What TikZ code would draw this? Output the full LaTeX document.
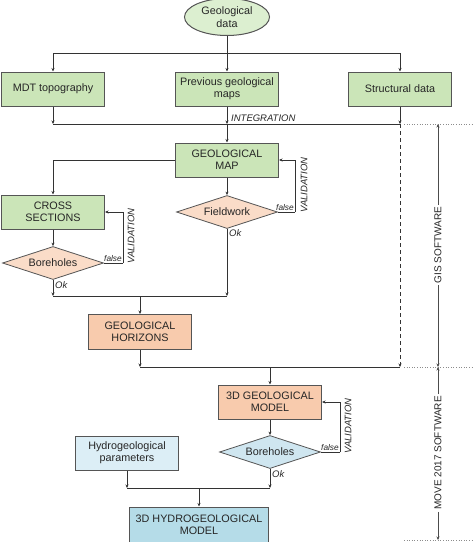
\documentclass[tikz,border=0pt]{standalone}
\usepackage{fontspec}
\setmainfont{Liberation Sans}
\usetikzlibrary{shapes.geometric,arrows.meta,calc}
\definecolor{bordc}{HTML}{555555}
\definecolor{linec}{HTML}{333333}
\definecolor{greenf}{HTML}{CBE5B8}
\definecolor{ellf}{HTML}{DCEFD0}
\definecolor{orangef}{HTML}{F8CBAD}
\definecolor{dorangef}{HTML}{FADCC8}
\definecolor{lbluef}{HTML}{DCEEF6}
\definecolor{dbluef}{HTML}{CFE6F0}
\definecolor{bluef}{HTML}{B5DCE8}
\newcommand\mainfs{\fontsize{10.8}{12.3}\selectfont}
\newcommand\labfs{\fontsize{9.5}{11}\selectfont\itshape}
\newcommand\smallfs{\fontsize{8.3}{10}\selectfont\itshape}
\begin{document}
\begin{tikzpicture}[x=1pt,y=-1pt,
  box/.style={draw=bordc,line width=1pt,minimum width=103pt,minimum height=34pt,align=center,inner sep=1pt,font=\mainfs,text=black!85},
  dia/.style={diamond,draw=bordc,line width=0.8pt,minimum width=101pt,minimum height=33pt,aspect=3,inner sep=0pt,font=\mainfs,text=black!85},
  arr/.style={draw=linec,line width=0.9pt,-{Stealth[length=3.5pt,width=3pt]}},
  ln/.style={draw=linec,line width=0.9pt},
  lab/.style={font=\labfs,text=black!85,inner sep=1pt},
  sml/.style={font=\smallfs,text=black!85,inner sep=0.5pt},
  dim/.style={draw=black!70,line width=0.6pt,-{Stealth[length=3.5pt,width=3pt]}},
  dotl/.style={draw=black!45,line width=0.6pt,dotted},
  vtxt/.style={rotate=90,font=\fontsize{10}{12}\selectfont,text=black!85,inner sep=2pt}
]
\useasboundingbox (0,0) rectangle (474,542);
\fill[white] (0,0) rectangle (474,542);

% top
\node[ellipse,draw=bordc,line width=1pt,fill=ellf,minimum width=85pt,minimum height=37pt,inner sep=0pt,align=center,font=\mainfs,text=black!85] (gd) at (227,17) {Geological\\data};
\node[box,fill=greenf] (mdt) at (53,89) {MDT topography};
\node[box,fill=greenf] (prev) at (227,89) {Previous geological\\maps};
\node[box,fill=greenf] (struct) at (400,89) {Structural data};

\coordinate (top) at (227,53);
\draw[ln] (gd.south) -- (top);
\draw[arr] (top) -| (mdt.north);
\draw[arr] (top) -| (struct.north);
\draw[arr] (top) -- (prev.north);

\coordinate (int) at (227,124);
\coordinate (intl) at (mdt.south |- int);
\coordinate (intr) at (struct.south |- int);
\draw[arr] (mdt.south) -- (intl);
\draw[arr] (struct.south) -- (intr);
\draw[arr] (prev.south) -- (int);
\draw[ln] (intl) -- (intr);
\node[lab,anchor=south west] (integ) at (230,123) {INTEGRATION};

% geological map
\node[box,fill=greenf] (map) at (227,160) {GEOLOGICAL\\MAP};
\draw[arr] (int) -- (map.north);
\node[box,fill=greenf] (cross) at (53,212) {CROSS\\SECTIONS};
\draw[arr] (map.west) -| (cross.north);
\node[dia,fill=dorangef] (field) at (227,212) {Fieldwork};
\draw[arr] (map.south) -- (field.north);
\coordinate (ff) at (295,212);
\draw[ln] (field.east) -- (ff);
\draw[arr] (ff) |- (map.east);
\node[sml,anchor=south] (false1) at (285,211) {false};
\node[lab,rotate=90] (val1) at (304,185) {VALIDATION};
\node[lab,anchor=north west] (ok1) at (228,228) {Ok};

% boreholes 1
\node[dia,fill=dorangef] (bore1) at (53,263) {Boreholes};
\draw[arr] (cross.south) -- (bore1.north);
\coordinate (fb) at (123,263);
\draw[ln] (bore1.east) -- (fb);
\draw[arr] (fb) |- (cross.east);
\node[sml,anchor=south] (false2) at (113,262) {false};
\node[lab,rotate=90] (val2) at (131,236) {VALIDATION};
\node[lab,anchor=north west] (ok2) at (54,280) {Ok};

% horizons
\coordinate (j2) at (140,296);
\coordinate (j2l) at (bore1.south |- j2);
\coordinate (j2r) at (field.south |- j2);
\draw[arr] (bore1.south) -- (j2l);
\draw[arr] (field.south) -- (j2r);
\draw[ln] (j2l) -- (j2r);
\node[box,fill=orangef,minimum height=35pt] (hor) at (140,332) {GEOLOGICAL\\HORIZONS};
\draw[arr] (j2) -- (hor.north);

\coordinate (j3) at (270,367);
\coordinate (j3l) at (hor.south |- j3);
\coordinate (j3r) at (400,367);
\draw[arr] (hor.south) -- (j3l);
\draw[arr,dashed,dash pattern=on 4pt off 3pt] (intr) -- (j3r);
\draw[ln] (j3l) -- (j3r);

% 3D model
\node[box,fill=orangef] (model) at (270,402) {3D GEOLOGICAL\\MODEL};
\draw[arr] (j3) -- (model.north);
\node[dia,fill=dbluef] (bore2) at (270,452) {Boreholes};
\draw[arr] (model.south) -- (bore2.north);
\coordinate (fc) at (340,452);
\draw[ln] (bore2.east) -- (fc);
\draw[arr] (fc) |- (model.east);
\node[sml,anchor=south] (false3) at (330,451) {false};
\node[lab,rotate=90] (val3) at (348,426) {VALIDATION};
\node[lab,anchor=north west] (ok3) at (271,469) {Ok};

\node[box,fill=lbluef] (hydro) at (127,453) {Hydrogeological\\parameters};
\coordinate (j4) at (199,488);
\coordinate (j4l) at (hydro.south |- j4);
\coordinate (j4r) at (bore2.south |- j4);
\draw[arr] (hydro.south) -- (j4l);
\draw[arr] (bore2.south) -- (j4r);
\draw[ln] (j4l) -- (j4r);
\node[box,fill=bluef,minimum width=139pt,minimum height=36pt] (hmodel) at (199,525) {3D HYDROGEOLOGICAL\\MODEL};
\draw[arr] (j4) -- (hmodel.north);

% right side software ranges
\draw[dotl] (404,124) -- (474,124);
\draw[dotl] (404,367) -- (474,367);
\draw[dotl] (404,540) -- (474,540);
\coordinate (d1) at (438,124);
\coordinate (d2) at (438,367);
\coordinate (d3) at (438,540);
\node[vtxt] (gis) at (438,245) {GIS SOFTWARE};
\node[vtxt] (move) at (438,453) {MOVE 2017 SOFTWARE};
\draw[dim] (gis.east) -- (d1);
\draw[dim] (gis.west) -- (d2);
\draw[dim] (move.east) -- (d2);
\draw[dim] (move.west) -- (d3);
\end{tikzpicture}
\end{document}
